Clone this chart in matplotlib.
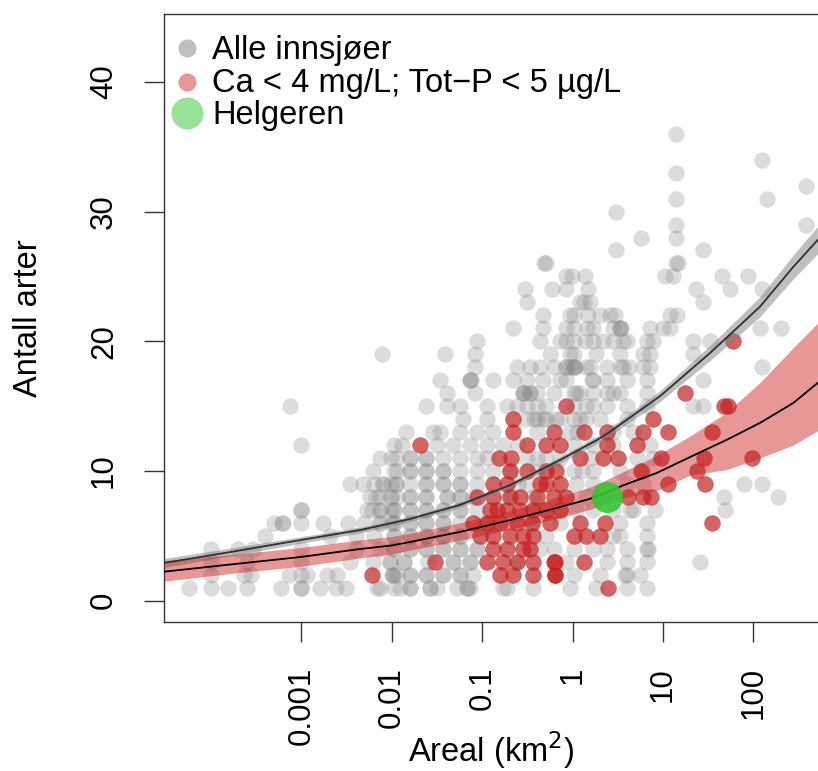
import numpy as np
import matplotlib
matplotlib.use("Agg")
from matplotlib import pyplot as plt

plt.rcParams['font.family'] = ['Liberation Sans', 'DejaVu Sans']

# antall arter per rad og log10(areal, km2) for alle innsjøer
antall_alle = [1, 2, 3, 4, 5, 6, 7, 8, 9, 10, 11, 12, 13, 14, 15, 16, 17, 18,
               19, 20, 21, 22, 23, 24, 25, 26, 27, 28, 29, 30, 31, 32, 33, 34, 35, 36]
log_areal_alle = [
    [-4.24, -4.00, -3.81, -3.60, -3.23, -3.01, -3.00, -2.79, -2.62, -2.51, -2.16, -1.98, -1.91,
     -1.80, -1.58, -1.50, -1.28, -1.17, -1.14, -0.77, -0.73, -0.44, -0.03, 0.26, 0.60, 0.82],
    [-4.00, -3.64, -3.56, -3.14, -3.01, -2.94, -2.72, -2.61, -2.00, -1.99, -1.94, -1.80, -1.62,
     -1.43, -1.25, -1.10, 0.01, 0.30, 0.58, 0.60, 0.74],
    [-4.00, -3.60, -3.01, -2.46, -2.21, -2.02, -1.87, -1.60, -1.32, -1.14, -0.62, -0.07, 0.38,
     0.60, 0.82, 1.41],
    [-4.00, -3.70, -3.54, -3.01, -2.40, -2.13, -1.98, -1.80, -1.62, -1.43, -1.25, -1.06, -0.36,
     -0.21, 0.01, 0.23, 0.38, 0.60, 0.82, 0.83],
    [-3.40, -2.68, -2.40, -2.20, -1.98, -1.80, -1.62, -1.43, -1.25, -0.29, 0.45, 0.52, 0.82],
    [-3.30, -3.22, -3.21, -3.01, -2.76, -2.49, -2.31, -2.13, -2.01, -1.98, -1.80, -1.62, -1.43,
     -1.25, -0.95, -0.44, -0.14, 0.52, 0.82],
    [-3.01, -3.00, -2.28, -2.22, -2.13, -2.01, -1.98, -1.80, -1.62, -1.43, -1.25, -1.06, 0.04,
     0.23, 0.45, 0.63, 0.67, 0.91, 1.68],
    [-2.24, -2.18, -2.13, -2.01, -1.94, -1.80, -1.62, -1.39, -1.25, -1.10, -0.73, -0.44, 0.15,
     0.30, 1.67, 2.27],
    [-2.46, -2.32, -2.20, -2.10, -2.01, -1.95, -1.80, -1.62, -1.43, -1.25, -1.06, -0.60, -0.51,
     0.04, 0.23, 0.60, 0.78, 1.89, 2.09],
    [-2.21, -1.98, -1.94, -1.80, -1.62, -1.43, -1.25, -1.06, -0.88, -0.69, -0.40, 0.01, 0.10,
     0.23, 0.52, 0.78],
    [-2.13, -2.01, -1.95, -1.80, -1.62, -1.43, -1.25, -1.06, -0.95, -0.51, -0.40, -0.29, -0.14,
     0.20, 0.71, 0.89],
    [-3.01, -1.98, -1.89, -1.50, -1.32, -1.14, -0.95, -0.77, -0.60, 0.01, 0.23, 0.45, 0.85],
    [-1.84, -1.54, -1.47, -1.25, -1.06, -0.88, -0.40, -0.03, 0.05, 0.45, 0.67],
    [-1.21, -0.95, -0.51, -0.43, -0.40, -0.32, -0.29, -0.18, -0.14, 0.01, 0.08, 0.15, 0.30, 0.60],
    [-3.13, -1.62, -1.39, -1.25, -0.95, -0.73, -0.62, -0.51, -0.40, -0.29, 0.01, 0.15, 0.23,
     0.38, 0.60, 0.82, 1.33, 1.44],
    [-1.39, -1.08, -0.55, -0.54, -0.47, -0.40, -0.21, 0.01, 0.04, 0.08, 0.23, 0.38, 0.45, 0.52, 0.82],
    [-1.47, -1.14, -1.12, -0.88, -0.66, -0.51, -0.33, -0.14, -0.07, 0.21, 0.23, 0.38, 0.60, 0.82, 1.44],
    [-1.08, -0.62, -0.47, -0.36, -0.21, -0.07, -0.03, 0.01, 0.03, 0.15, 0.19, 0.38, 0.52, 0.56,
     0.62, 0.78, 0.85, 2.09],
    [-2.11, -1.41, -1.08, -0.25, -0.03, 0.01, 0.26, 0.52, 0.78, 0.85, 1.33],
    [-1.06, -0.36, -0.14, -0.07, 0.01, 0.14, 0.23, 0.34, 0.45, 0.56, 0.60, 0.82, 0.89, 1.33, 1.52],
    [-0.66, -0.33, -0.07, 0.01, 0.16, 0.23, 0.45, 0.52, 0.53, 0.85, 1.00, 1.08, 2.07, 2.31],
    [-0.33, -0.03, 0.01, 0.17, 0.30, 0.41, 0.47, 1.08, 1.15],
    [-0.51, 0.08, 0.12, 0.19, 1.44],
    [-0.53, -0.23, -0.07, 0.17, 1.36, 1.74, 2.09],
    [-0.07, -0.01, 0.14, 1.02, 1.11, 1.65, 1.94],
    [-0.32, -0.30, 1.14, 1.16],
    [0.48, 1.44],
    [0.76, 1.14],
    [1.14, 2.58],
    [0.48],
    [1.14, 2.15],
    [2.58],
    [1.14],
    [2.09],
    [],
    [1.14],
]

# flere innsjøer som ligger oppå hverandre i den tette kjernen
antall_tett = [1, 2, 3, 4, 5, 6, 7, 8, 9, 10, 11, 16, 17, 18, 21]
log_areal_tett = [
    [-2.13, -1.80, -1.58, -1.17],
    [-1.99, -1.80, -1.62, -1.43, -1.25],
    [-2.02, -1.87, -1.32, -1.14],
    [-1.98, -1.80, -1.62, -1.43, -1.25, -1.06],
    [-1.98, -1.80, -1.62, -1.43, -1.25],
    [-2.13, -1.98, -1.80, -1.62, -1.43],
    [-2.13, -1.98, -1.80, -1.62, -1.43, -1.25],
    [-2.01, -1.80, -1.62, -1.39, -1.25],
    [-2.10, -1.95, -1.62, -1.43, -1.25],
    [-1.80, -1.62, -1.43],
    [-1.80, -1.62],
    [-0.55, -0.47],
    [-1.14],
    [-0.07, 0.01],
    [0.52],
]

# innsjøer med Ca < 4 mg/L og Tot-P < 5 µg/L
antall_rod = [1, 2, 3, 4, 5, 6, 7, 8, 9, 10, 11, 12, 13, 14, 15, 16, 20]
log_areal_rod = [
    [0.39],
    [-2.22, -0.80, -0.66, -0.44, -0.20, -0.19],
    [-1.52, -0.95, -0.77, -0.62, -0.44, -0.21, -0.20, 0.12],
    [-0.88, -0.73, -0.55, -0.47],
    [-1.03, -0.88, -0.69, -0.55, -0.44, 0.01, 0.15, 0.30],
    [-1.10, -0.95, -0.80, -0.62, -0.45, -0.25, 0.08, 0.36, 1.54],
    [-0.91, -0.84, -0.73, -0.58, -0.44, -0.29, -0.14],
    [-1.06, -0.88, -0.69, -0.58, -0.40, -0.21, -0.07, 0.61, 0.78, 0.87],
    [-0.88, -0.73, -0.36, -0.29, -0.14, 1.06, 1.46],
    [-0.69, -0.51, -0.29, -0.18, 0.76, 1.37],
    [-0.82, -0.68, 0.08, 0.34, 0.50, 0.98, 1.45, 1.98],
    [-1.69, -0.51, -0.29, -0.14, 0.38, 0.71],
    [-0.66, -0.21, 0.12, 0.38, 0.78, 1.06, 1.54],
    [-0.66, 0.89],
    [-0.07, 1.67, 1.72],
    [1.24],
    [1.77],
]

# Helgeren
helgeren_areal = 2.37
helgeren_antall = 8

# modellkurver (log10 areal) med konfidensbånd
kurve_alle_log = [-4.52, -3.79, -3.01, -2.35, -2.00, -1.80, -1.25, -0.69, -0.14, 0.27, 0.41,
                  0.97, 1.52, 2.07, 2.44, 2.71]
kurve_alle = [2.91, 3.75, 4.68, 5.45, 5.99, 6.30, 7.38, 8.92, 10.85, 12.39, 13.01, 15.79,
              19.10, 22.65, 25.73, 27.81]
kurve_alle_lo = [2.56, 3.45, 4.43, 5.23, 5.79, 6.10, 7.18, 8.72, 10.60, 12.11, 12.71, 15.37,
                 18.52, 21.88, 24.81, 26.76]
kurve_alle_hi = [3.26, 4.05, 4.93, 5.67, 6.19, 6.50, 7.58, 9.12, 11.10, 12.67, 13.31, 16.21,
                 19.68, 23.42, 26.65, 28.86]

kurve_rod_log = [-4.52, -3.79, -3.01, -2.35, -2.00, -1.80, -1.25, -0.69, -0.14, 0.19, 0.38,
                 0.56, 0.93, 1.30, 1.70, 2.07, 2.44, 2.71]
kurve_rod = [2.24, 2.79, 3.37, 3.99, 4.26, 4.53, 5.30, 6.22, 7.22, 7.85, 8.35, 8.90, 9.85,
             11.08, 12.39, 13.70, 15.24, 16.79]
kurve_rod_lo = [1.50, 2.10, 2.65, 3.30, 3.60, 3.90, 4.65, 5.50, 6.40, 7.05, 7.45, 7.90, 8.50,
                9.69, 10.10, 11.00, 12.00, 13.10]
kurve_rod_hi = [3.10, 3.55, 4.10, 4.70, 4.95, 5.20, 6.00, 6.95, 8.05, 8.75, 9.35, 9.95, 11.20,
                12.70, 14.50, 16.80, 19.50, 21.40]

x_ticks = [0.001, 0.01, 0.1, 1, 10, 100]
x_ticklabels = ["0.001", "0.01", "0.1", "1", "10", "100"]
y_ticks = [0, 10, 20, 30, 40]

gra = (0.5, 0.5, 0.5)
rod = (0.8, 0.1, 0.1)
gronn = (0.2, 0.78, 0.2)

fs_tick = 22.5
fs_leg = 23.5
fs_lab = 23.5


def flat(antall, rader):
    xs, ys = [], []
    for n, rad in zip(antall, rader):
        for v in rad:
            xs.append(10 ** v)
            ys.append(n)
    return xs, ys


fig = plt.figure(figsize=(8.18, 7.71), dpi=100)
ax = fig.add_axes([164 / 818, 149 / 771, 654 / 818, 608 / 771])

xa, ya = flat(antall_alle, log_areal_alle)
xt, yt = flat(antall_tett, log_areal_tett)
xr, yr = flat(antall_rod, log_areal_rod)

# alle innsjøer (inkluderer de røde)
ax.scatter(xa + xt + xr, ya + yt + yr, s=140, color=gra, alpha=0.27, linewidths=0, zorder=2)
ax.scatter(xr, yr, s=140, color=rod, alpha=0.62, linewidths=0, zorder=3)

xk = 10 ** np.array(kurve_alle_log)
ax.fill_between(xk, kurve_alle_lo, kurve_alle_hi, color=gra, alpha=0.5, linewidth=0, zorder=4)
xkr = 10 ** np.array(kurve_rod_log)
ax.fill_between(xkr, kurve_rod_lo, kurve_rod_hi, color=rod, alpha=0.45, linewidth=0, zorder=4)
ax.plot(xk, kurve_alle, color='#303030', lw=1.3, zorder=5)
ax.plot(xkr, kurve_rod, color='black', lw=1.3, zorder=5)

ax.scatter([helgeren_areal], [helgeren_antall], s=500, color=gronn, alpha=0.9,
           linewidths=0, zorder=6)

ax.set_xscale('log')
ax.set_xlim(10 ** -4.521, 10 ** 2.714)
ax.set_ylim(-1.64, 45.23)

ax.set_xticks(x_ticks)
ax.set_xticklabels(x_ticklabels)
ax.minorticks_off()
ax.set_yticks(y_ticks)
ax.set_yticklabels([str(v) for v in y_ticks])

ax.tick_params(axis='x', length=14.4, width=1, color='#333333', pad=18,
               labelsize=fs_tick, labelrotation=90)
ax.tick_params(axis='y', length=14.4, width=1, color='#333333', pad=18,
               labelsize=fs_tick, labelrotation=90)
for lbl in ax.get_yticklabels():
    lbl.set_va('center')

for side in ['left', 'bottom', 'top']:
    ax.spines[side].set_color('#333333')
    ax.spines[side].set_linewidth(1)
ax.spines['right'].set_visible(False)

ax.set_xlabel("Areal (km$^2$)", fontsize=fs_lab)
ax.xaxis.set_label_coords(0.5, -0.176)
ax.set_ylabel("Antall arter", fontsize=fs_lab)
ax.yaxis.set_label_coords(-0.184, 0.5)

# forklaring
leg = [("Alle innsjøer", gra, 0.5, 170, 0.9436, 0.9252),
       ("Ca < 4 mg/L; Tot\u2212P < 5 µg/L", rod, 0.45, 170, 0.8887, 0.8717),
       ("Helgeren", gronn, 0.5, 530, 0.8367, 0.8183)]
for tekst, farge, a, s, ym, ytxt in leg:
    ax.scatter([0.0352], [ym], s=s, color=farge, alpha=a, linewidths=0,
               transform=ax.transAxes, clip_on=False, zorder=7)
    ax.text(0.0734, ytxt, tekst, fontsize=fs_leg, va='baseline', ha='left',
            transform=ax.transAxes, zorder=7)

fig.savefig("out.png", dpi=100)
